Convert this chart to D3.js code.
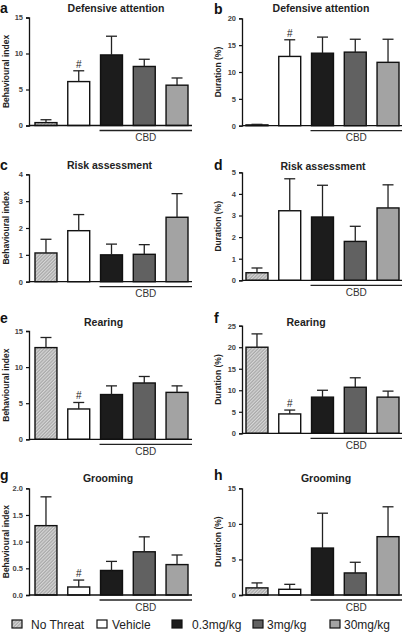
<!DOCTYPE html>
<html><head><meta charset="utf-8">
<script src="https://cdn.jsdelivr.net/npm/d3@7"></script>
<style>
html,body{margin:0;padding:0;background:#fff;}
svg{display:block;font-family:Arial,"Liberation Sans",sans-serif;}
</style></head>
<body>
<svg id="chart" width="406" height="633"></svg>
<script>
// ---------- data ----------
const groups = ["No Threat","Vehicle","0.3mg/kg","3mg/kg","30mg/kg"];
const panelLetters = ["a","b","c","d","e","f","g","h"];
const titles = ["Defensive attention","Defensive attention","Risk assessment","Risk assessment","Rearing","Rearing","Grooming","Grooming"];
const yLabels = ["Behavioural index","Duration (%)","Behavioural index","Duration (%)","Behavioural index","Duration (%)","Behavioural index","Duration (%)"];
const yMax = [15,20,4,5,15,25,2.0,15];
const yTickValues = [
  [0,5,10,15],[0,5,10,15,20],[0,1,2,3,4],[0,1,2,3,4,5],
  [0,5,10,15],[0,5,10,15,20,25],[0,0.5,1.0,1.5,2.0],[0,5,10,15]
];
const meansA = [0.4,6.1,9.8,8.2,5.6];   const errTopA = [0.8,7.6,12.4,9.2,6.6];
const meansB = [0.15,12.9,13.5,13.7,11.8]; const errTopB = [0.25,16.0,16.5,16.1,16.1];
const meansC = [1.07,1.9,1.0,1.02,2.4]; const errTopC = [1.58,2.5,1.4,1.38,3.28];
const meansD = [0.35,3.22,2.93,1.8,3.35]; const errTopD = [0.57,4.7,4.4,2.5,4.42];
const meansE = [12.7,4.2,6.2,7.8,6.5];  const errTopE = [14.1,5.1,7.4,8.7,7.4];
const meansF = [20.0,4.5,8.4,10.7,8.4]; const errTopF = [23.1,5.4,10.0,12.9,9.8];
const meansG = [1.3,0.15,0.46,0.81,0.57]; const errTopG = [1.84,0.28,0.63,1.09,0.75];
const meansH = [1.0,0.8,6.6,3.1,8.2];   const errTopH = [1.7,1.5,11.5,4.6,12.4];
const allMeans = [meansA,meansB,meansC,meansD,meansE,meansF,meansG,meansH];
const allErrTop = [errTopA,errTopB,errTopC,errTopD,errTopE,errTopF,errTopG,errTopH];
const hashOnVehicle = [true,true,false,false,true,true,true,false];
const cbdLabel = "CBD";

// ---------- layout / style ----------
const fills = ["url(#hatch)","#ffffff","#1c1c1c","#616161","#a3a3a3"];
const colLayout = [
  {axisX:29, barStart:35, barEnd:188, axisEnd:192, labelX:6, letterX:0},
  {axisX:242, barStart:246, barEnd:399, axisEnd:402, labelX:218, letterX:214}
];
const rowY = [ // [zero, top] pixel per panel
  [125.5,17.5],[125.7,18.3],[281.7,174.3],[280.3,172.3],
  [439.3,331],[433.3,325.7],[595,488.3],[595,488.3]
];
const titleX = [116,321,109.5,323,103.5,306,108,326];
const titleY = [12,12,169,170,326,326,482,482];
const letterY = [13,14,170,170,323,323,480,480];

const svg = d3.select("#chart");
const defs = svg.append("defs");
const pat = defs.append("pattern").attr("id","hatch")
  .attr("patternUnits","userSpaceOnUse").attr("width",2.4).attr("height",2.4)
  .attr("patternTransform","rotate(45)");
pat.append("rect").attr("width",2.4).attr("height",2.4).attr("fill","#a9a9a9");
pat.append("line").attr("x1",0.6).attr("x2",0.6).attr("y1",0).attr("y2",2.4)
  .attr("stroke","#e2e2e2").attr("stroke-width",0.9);

panelLetters.forEach((letter,i)=>{
  const col = colLayout[i%2];
  const [y0,y1] = rowY[i];
  const g = svg.append("g");
  const x = d3.scaleBand().domain(groups).range([col.barStart,col.barEnd]).paddingInner(0.33).paddingOuter(0);
  const y = d3.scaleLinear().domain([0,yMax[i]]).range([y0,y1]);

  // y axis
  const fmt = (i===6) ? d3.format(".1f") : d3.format("d");
  const ax = g.append("g").attr("transform",`translate(${col.axisX},0)`)
    .call(d3.axisLeft(y).tickValues(yTickValues[i]).tickFormat(fmt).tickSize(3).tickPadding(3));
  ax.select(".domain").attr("stroke","#111").attr("stroke-width",1.3);
  ax.selectAll(".tick line").attr("stroke","#111").attr("stroke-width",1.2);
  ax.selectAll(".tick text").attr("font-size",7.5).attr("font-weight","bold").attr("fill","#444")
    .attr("font-family","Arial,'Liberation Sans',sans-serif");

  // bars
  g.selectAll("rect.bar").data(groups).enter().append("rect")
    .attr("x",d=>x(d)).attr("width",x.bandwidth())
    .attr("y",(d,k)=>y(allMeans[i][k])).attr("height",(d,k)=>y(0)-y(allMeans[i][k]))
    .attr("fill",(d,k)=>fills[k]).attr("stroke","#111").attr("stroke-width",1.4);

  // error bars (upper only)
  const capW = x.bandwidth()*0.5;
  groups.forEach((d,k)=>{
    const cx = x(d)+x.bandwidth()/2;
    g.append("line").attr("x1",cx).attr("x2",cx).attr("y1",y(allMeans[i][k])).attr("y2",y(allErrTop[i][k]))
      .attr("stroke","#222").attr("stroke-width",1.3);
    g.append("line").attr("x1",cx-capW/2).attr("x2",cx+capW/2).attr("y1",y(allErrTop[i][k])).attr("y2",y(allErrTop[i][k]))
      .attr("stroke","#222").attr("stroke-width",1.3);
    if(k===1 && hashOnVehicle[i]){
      g.append("text").attr("x",cx).attr("y",y(allErrTop[i][k])-3).attr("text-anchor","middle")
        .attr("font-size",10).attr("fill","#222").text("#");
    }
  });

  // x axis line
  g.append("line").attr("x1",col.axisX).attr("x2",col.axisEnd).attr("y1",y0).attr("y2",y0)
    .attr("stroke","#111").attr("stroke-width",1.3);

  // CBD bracket
  const cbdStart = x(groups[2])-1;
  g.append("line").attr("x1",cbdStart).attr("x2",col.axisEnd).attr("y1",y0+5).attr("y2",y0+5)
    .attr("stroke","#222").attr("stroke-width",1.3);
  g.append("text").attr("x",(cbdStart+col.axisEnd)/2).attr("y",y0+15.5).attr("text-anchor","middle")
    .attr("font-size",10).attr("fill","#333").text(cbdLabel);

  // title
  g.append("text").attr("x",titleX[i]).attr("y",titleY[i]).attr("text-anchor","middle")
    .attr("font-size",10.5).attr("font-weight","bold").attr("fill","#222").text(titles[i]);
  // panel letter
  g.append("text").attr("x",col.letterX).attr("y",letterY[i])
    .attr("font-size",14).attr("font-weight","bold").attr("fill","#111").text(letter);
  // y label
  g.append("text").attr("transform",`translate(${col.labelX},${(y0+y1)/2}) rotate(-90)`)
    .attr("text-anchor","middle").attr("dominant-baseline","central")
    .attr("font-size",8.5).attr("font-weight","bold").attr("fill","#222").text(yLabels[i]);
});

// legend
const legendSwatchX = [12,97,172,253,330];
const legendTextX = [31,112,192,267,344];
const lg = svg.append("g");
groups.forEach((name,k)=>{
  lg.append("rect").attr("x",legendSwatchX[k]).attr("y",620).attr("width",10).attr("height",8)
    .attr("fill",fills[k]).attr("stroke","#111").attr("stroke-width",1.2);
  lg.append("text").attr("x",legendTextX[k]).attr("y",629).attr("font-size",12).attr("fill","#222").text(name);
});
</script>
</body></html>
